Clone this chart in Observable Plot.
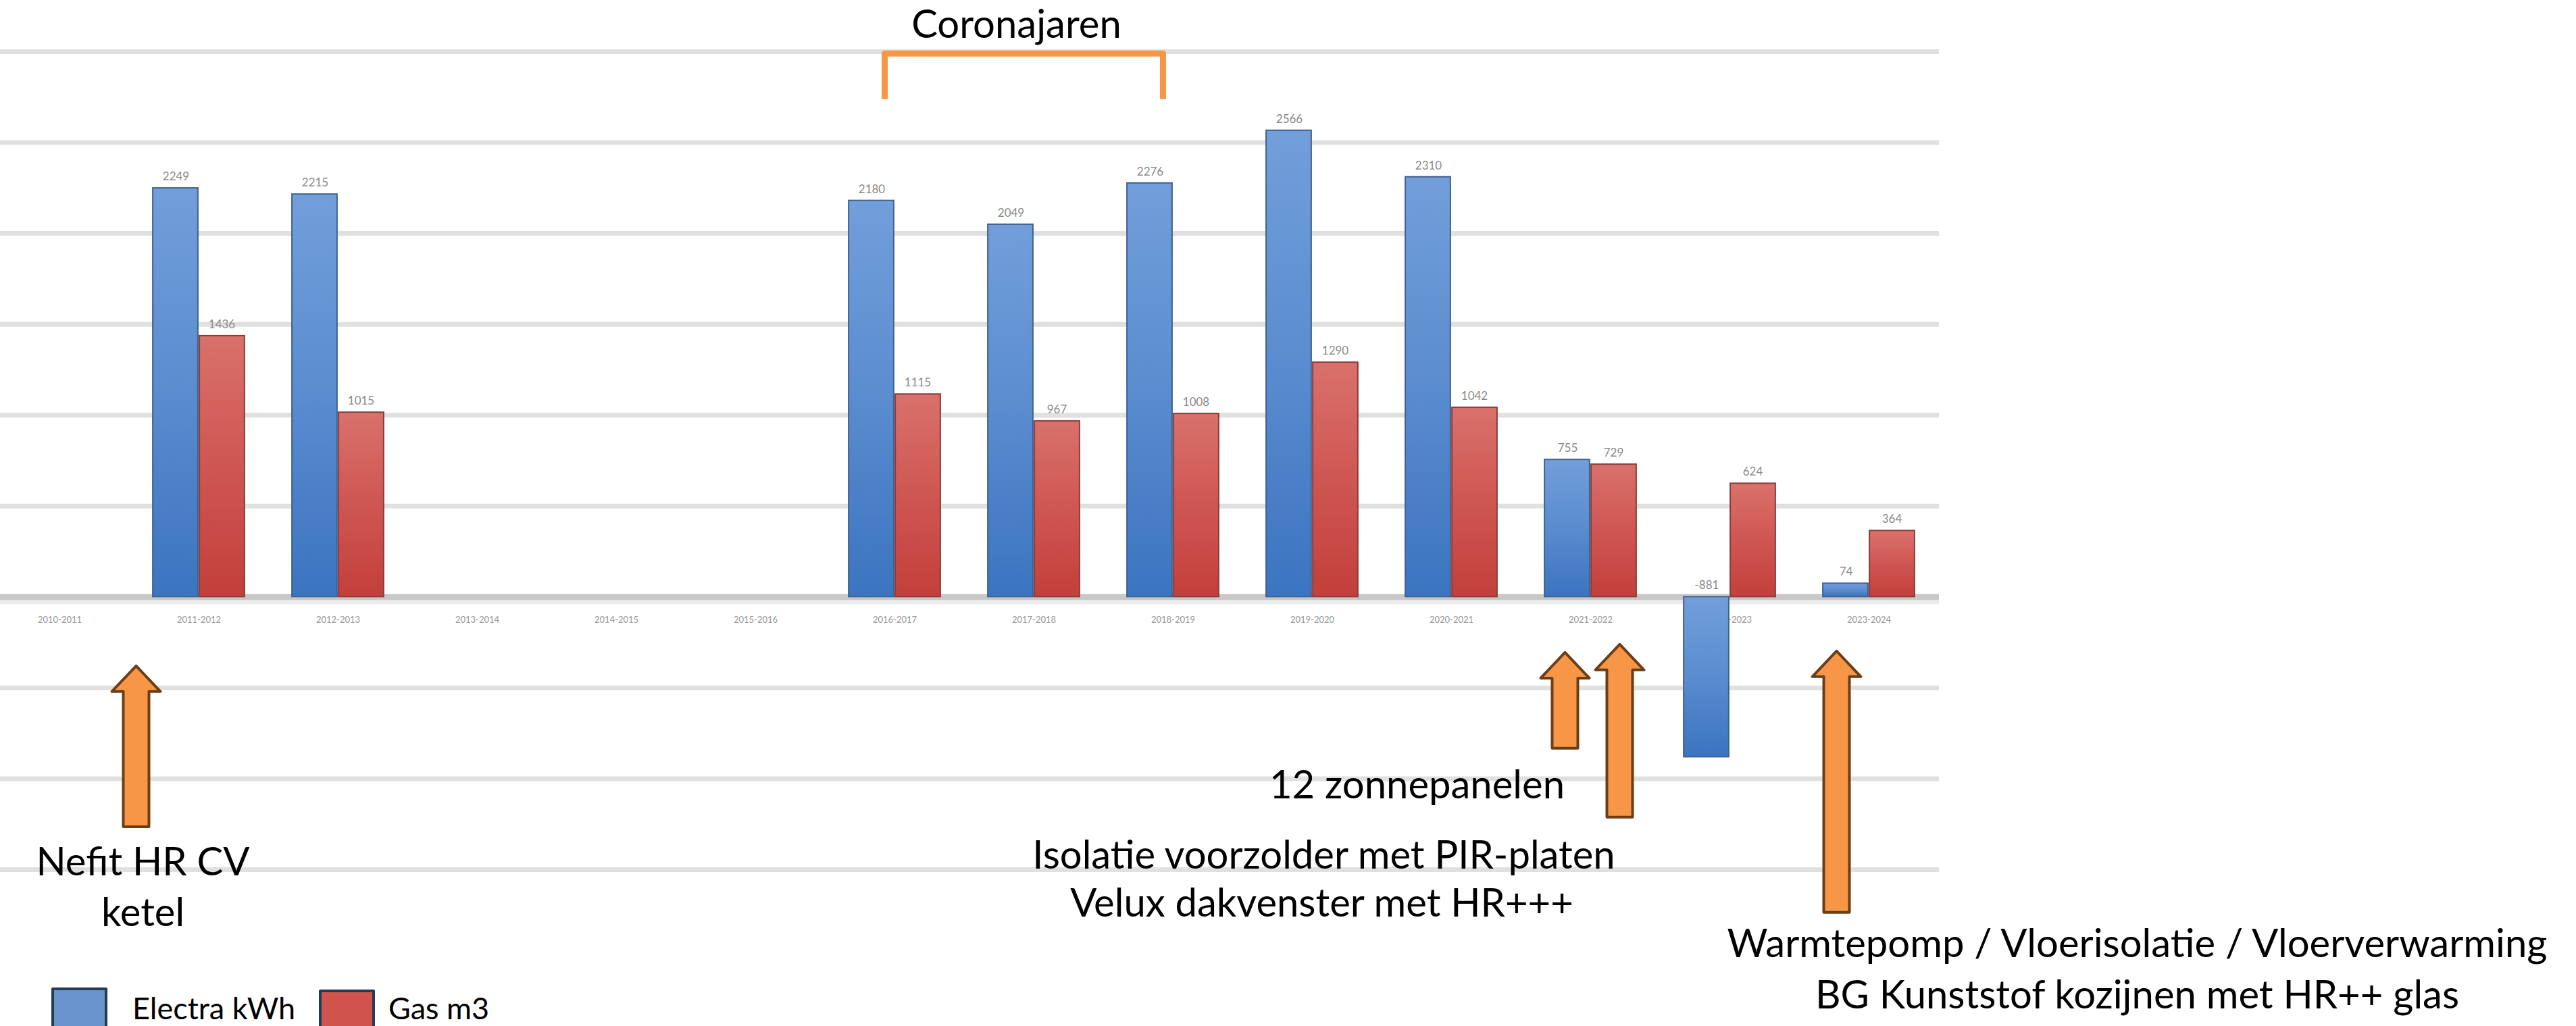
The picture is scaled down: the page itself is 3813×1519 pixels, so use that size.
<!DOCTYPE html>
<html>
<head>
<meta charset="utf-8">
<script src="https://cdn.jsdelivr.net/npm/d3@7"></script>
<script src="https://cdn.jsdelivr.net/npm/@observablehq/plot@0.6"></script>
<style>
  html, body { margin: 0; padding: 0; background: #fff; overflow: hidden; }
  #wrap { position: relative; width: 3813px; height: 1519px; overflow: hidden; background: #fff; }
  #chart { position: absolute; left: -17px; top: 0; }
  .legend-item { position: absolute; font-family: Lato, "Open Sans", sans-serif; font-size: 45px; line-height: 45px; color: #000; white-space: nowrap; }
  .swatch { position: absolute; width: 75px; height: 80px; border: 4px solid #243b55; border-radius: 2px; }
</style>
</head>
<body>
<div id="wrap">
  <div id="chart"></div>
  <div id="legend"></div>
</div>
<script>
// ---- data ----
const categories = ["2010-2011","2011-2012","2012-2013","2013-2014","2014-2015","2015-2016","2016-2017",
                    "2017-2018","2018-2019","2019-2020","2020-2021","2021-2022","2022-2023","2023-2024"];
const electraKwh = [null, 2249, 2215, null, null, null, 2180, 2049, 2276, 2566, 2310, 755, -881, 74];
const gasM3      = [null, 1436, 1015, null, null, null, 1115, 967, 1008, 1290, 1042, 729, 624, 364];
const seriesNames = ["Electra kWh", "Gas m3"];
const gridValues = [-1500, -1000, -500, 500, 1000, 1500, 2000, 2500, 3000];

// annotations
const noteTexts   = ["Coronajaren", "12 zonnepanelen", "Isolatie voorzolder met PIR-platen", "Velux dakvenster met HR+++",
                     "Nefit HR CV", "ketel", "Warmtepomp / Vloerisolatie / Vloerverwarming", "BG Kunststof kozijnen met HR++ glas"];
const noteAnchors = ["2017-2018", "2020-2021", "2019-2020", "2019-2020", "2011-2012", "2011-2012", "2023-2024", "2023-2024"];
const noteLevels  = [3144, -1040, -1427, -1691, -1464, -1743, -1914, -2196];
const arrowAnchors = ["2011-2012", "2021-2022", "2021-2022", "2023-2024"];
const arrowTips    = [-379, -305, -260, -297];
const arrowBases   = [-1264, -832, -1211, -1735];
const bracketFrom = "2016-2017", bracketTo = "2018-2019";
const bracketTop = 2990, bracketFoot = 2739;

// ---- layout ----
const W = 3830, H = 1519;
const mTop = 76, mBottom = 232, mLeft = 0, mRight = 943;
const plotW = W - mLeft - mRight;
const step = plotW / categories.length;
const half = step / 2;
const barW = 68;
const yMin = -1500, yMax = 3000;
const pxPerUnit = (H - mTop - mBottom) / (yMax - yMin);

const rows = categories.map((c, i) => ({cat: c, electra: electraKwh[i], gas: gasM3[i]}));
const rowsE = rows.filter(d => d.electra != null);
const rowsG = rows.filter(d => d.gas != null);

function blockArrow(lenPx) {
  const hw = 36, hh = 38, sw = 19;
  return {
    draw(ctx) {
      ctx.moveTo(0, 0);
      ctx.lineTo(hw, hh);
      ctx.lineTo(sw, hh);
      ctx.lineTo(sw, lenPx);
      ctx.lineTo(-sw, lenPx);
      ctx.lineTo(-sw, hh);
      ctx.lineTo(-hw, hh);
      ctx.closePath();
    }
  };
}

const noteDx = [-26, -51, 17, 14, -83, -83, 397, 397];
const arrowDx = [-93, -38, 43, -48];

const marks = [
  Plot.ruleY(gridValues, {stroke: "#e0e0e0", strokeWidth: 7}),
  Plot.ruleY([0], {stroke: "#ececec", strokeWidth: 8, dy: 7}),
  Plot.ruleY([0], {stroke: "#c8c8c8", strokeWidth: 9}),
  // category labels
  Plot.text(categories, {x: d => d, y: d => 0, dy: 34, text: d => d, fontSize: 13, fill: "#959595"}),
  // bars
  Plot.barY(rowsE, {x: "cat", y: "electra", fill: "url(#gradE)", stroke: "#3f618f", strokeWidth: 2,
                    insetLeft: half - barW, insetRight: half + 1}),
  Plot.barY(rowsG, {x: "cat", y: "gas", fill: "url(#gradG)", stroke: "#8a3c3a", strokeWidth: 2,
                    insetLeft: half + 1, insetRight: half - barW}),
  // value labels
  Plot.text(rowsE, {x: "cat", y: d => Math.max(0, d.electra), text: d => String(d.electra), dx: -barW / 2, dy: -17,
                    fontSize: 17, fill: "#8a8a8a"}),
  Plot.text(rowsG, {x: "cat", y: "gas", text: d => String(d.gas), dx: barW / 2, dy: -17,
                    fontSize: 17, fill: "#8a8a8a"}),
  // Corona bracket
  Plot.line([{c: bracketFrom, v: bracketFoot}, {c: bracketFrom, v: bracketTop}, {c: bracketTo, v: bracketTop}, {c: bracketTo, v: bracketFoot}],
            {x: "c", y: "v", dx: -15, stroke: "#f79646", strokeWidth: 9, strokeLinejoin: "round", strokeLinecap: "butt"})
];

arrowAnchors.forEach((a, i) => {
  const len = (arrowTips[i] - arrowBases[i]) * pxPerUnit;
  marks.push(Plot.dot([i], {x: j => arrowAnchors[j], y: j => arrowTips[j], symbol: blockArrow(len), r: 10,
    fill: "#f79646", stroke: "#6b3e17", strokeWidth: 4, strokeLinejoin: "round", dx: arrowDx[i]}));
});

noteTexts.forEach((t, i) => {
  marks.push(Plot.text([i], {x: j => noteAnchors[j], y: j => noteLevels[j], text: j => noteTexts[j], dx: noteDx[i],
    fontSize: 58, fill: "#000", textAnchor: "middle"}));
});

const chart = Plot.plot({
  width: W, height: H,
  marginTop: mTop, marginBottom: mBottom, marginLeft: mLeft, marginRight: mRight,
  style: {fontFamily: "Lato, 'Open Sans', sans-serif", background: "#fff", overflow: "visible"},
  x: {type: "band", domain: categories, padding: 0, axis: null},
  y: {domain: [yMin, yMax], axis: null},
  marks
});

// gradients for the bar fills
const defs = d3.select(chart).insert("defs", ":first-child");
function grad(id, stops) {
  const g = defs.append("linearGradient").attr("id", id).attr("x1", 0).attr("y1", 0).attr("x2", 0).attr("y2", 1);
  stops.forEach(([o, c]) => g.append("stop").attr("offset", o).attr("stop-color", c));
}
grad("gradE", [[0, "#729fda"], [0.5, "#5a8ccf"], [1, "#3b74c0"]]);
grad("gradG", [[0, "#d9716b"], [0.5, "#cf5652"], [1, "#c33f3b"]]);

document.getElementById("chart").appendChild(chart);

// legend
const legend = document.getElementById("legend");
const legendItems = [
  {name: seriesNames[0], color: "#6893cc", sx: 76, sy: 1462, tx: 196},
  {name: seriesNames[1], color: "#d0534e", sx: 472, sy: 1465, tx: 575}
];
legendItems.forEach(it => {
  const s = document.createElement("div");
  s.className = "swatch";
  s.style.left = it.sx + "px"; s.style.top = it.sy + "px"; s.style.background = it.color;
  legend.appendChild(s);
  const t = document.createElement("div");
  t.className = "legend-item";
  t.style.left = it.tx + "px"; t.style.top = "1470px";
  t.textContent = it.name;
  legend.appendChild(t);
});
</script>
</body>
</html>
